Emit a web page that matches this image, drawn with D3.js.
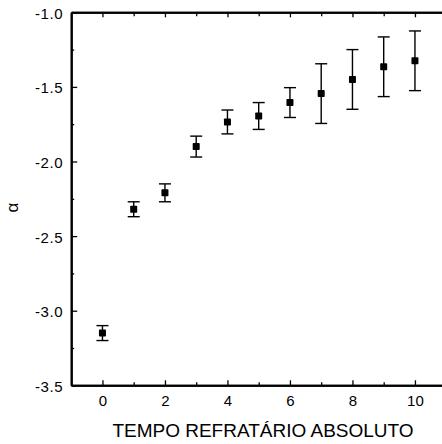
<!DOCTYPE html>
<html>
<head>
<meta charset="utf-8">
<script src="https://cdn.jsdelivr.net/npm/d3@7"></script>
<style>
  html, body { margin: 0; padding: 0; background: #fff; overflow: hidden; }
  svg { display: block; font-family: "Liberation Sans", Arial, Helvetica, sans-serif; }
</style>
</head>
<body>
<svg id="chart" width="442" height="444"></svg>
<script>
// Absolute refractory time (x) and fitted exponent alpha with error bars
const tempo = [0, 1, 2, 3, 4, 5, 6, 7, 8, 9, 10];
const alpha = [-3.15, -2.32, -2.21, -1.90, -1.735, -1.695, -1.605, -1.545, -1.45, -1.365, -1.325];
const erro  = [0.05, 0.05, 0.06, 0.07, 0.08, 0.09, 0.10, 0.20, 0.20, 0.20, 0.20];

const xMajor = [0, 2, 4, 6, 8, 10];
const xMinor = [1, 3, 5, 7, 9];
const yMajor = [-3.5, -3.0, -2.5, -2.0, -1.5, -1.0];
const yMinor = [-3.25, -2.75, -2.25, -1.75, -1.25];

const xTitle = "TEMPO REFRATÁRIO ABSOLUTO";
const yTitle = "α";

const svg = d3.select("#chart");
const plotLeft = 71.2, plotRight = 446.2, plotTop = 12.3, plotBottom = 385.3;

const x = d3.scaleLinear().domain([-1, 11]).range([plotLeft, plotRight]);
const y = d3.scaleLinear().domain([-3.5, -1]).range([plotBottom, plotTop]);

const fmt = d => d.toFixed(1);

function styleAxis(g) {
  g.select(".domain").attr("stroke", "#000").attr("stroke-width", 2);
  g.selectAll(".tick line").attr("stroke", "#000").attr("stroke-width", 1.3);
  g.selectAll(".tick text").attr("fill", "#000").style("font-size", "15px");
}

// bottom axis: labelled even ticks, short odd ticks, all pointing inward
svg.append("g").attr("transform", `translate(0,${plotBottom})`)
  .call(d3.axisBottom(x).tickValues(xMajor).tickSize(-5).tickSizeOuter(0).tickPadding(10).tickFormat(d3.format("d")))
  .call(styleAxis)
  .call(g => g.selectAll(".tick text").attr("dy", "0.71em"));
svg.append("g").attr("transform", `translate(0,${plotBottom})`)
  .call(d3.axisBottom(x).tickValues(xMinor).tickSize(-3).tickSizeOuter(0).tickFormat(""))
  .call(styleAxis);

// top axis
svg.append("g").attr("transform", `translate(0,${plotTop})`)
  .call(d3.axisTop(x).tickValues(xMajor).tickSize(-5).tickSizeOuter(0).tickFormat(""))
  .call(styleAxis);
svg.append("g").attr("transform", `translate(0,${plotTop})`)
  .call(d3.axisTop(x).tickValues(xMinor).tickSize(-4).tickSizeOuter(0).tickFormat(""))
  .call(styleAxis);

// left axis
svg.append("g").attr("transform", `translate(${plotLeft},0)`)
  .call(d3.axisLeft(y).tickValues(yMajor).tickSize(-6).tickSizeOuter(0).tickPadding(8).tickFormat(fmt))
  .call(styleAxis)
  .call(g => g.selectAll(".tick text").attr("dy", "0.4em").style("letter-spacing", "0.6px"));
svg.append("g").attr("transform", `translate(${plotLeft},0)`)
  .call(d3.axisLeft(y).tickValues(yMinor).tickSize(-3).tickSizeOuter(0).tickFormat(""))
  .call(styleAxis);

// axis titles
svg.append("text")
  .attr("x", 263).attr("y", 437)
  .attr("text-anchor", "middle")
  .style("font-size", "19px")
  .text(xTitle);

svg.append("text")
  .attr("transform", `translate(18,207.5) rotate(-90)`)
  .attr("text-anchor", "middle")
  .style("font-size", "17px")
  .text(yTitle);

// error bars
const data = tempo.map((t, i) => ({ t, a: alpha[i], e: erro[i] }));
const cap = 6;
const bars = svg.append("g").attr("stroke", "#000").attr("stroke-width", 1.4);
bars.selectAll("line.v").data(data).join("line").attr("class", "v")
  .attr("x1", d => x(d.t)).attr("x2", d => x(d.t))
  .attr("y1", d => y(d.a + d.e)).attr("y2", d => y(d.a - d.e));
bars.selectAll("line.hi").data(data).join("line").attr("class", "hi")
  .attr("x1", d => x(d.t) - cap).attr("x2", d => x(d.t) + cap)
  .attr("y1", d => y(d.a + d.e)).attr("y2", d => y(d.a + d.e));
bars.selectAll("line.lo").data(data).join("line").attr("class", "lo")
  .attr("x1", d => x(d.t) - cap).attr("x2", d => x(d.t) + cap)
  .attr("y1", d => y(d.a - d.e)).attr("y2", d => y(d.a - d.e));

// square markers
const s = 7;
svg.append("g").selectAll("rect").data(data).join("rect")
  .attr("x", d => x(d.t) - s / 2).attr("y", d => y(d.a) - s / 2)
  .attr("width", s).attr("height", s).attr("rx", 0.8)
  .attr("fill", "#000");
</script>
</body>
</html>
